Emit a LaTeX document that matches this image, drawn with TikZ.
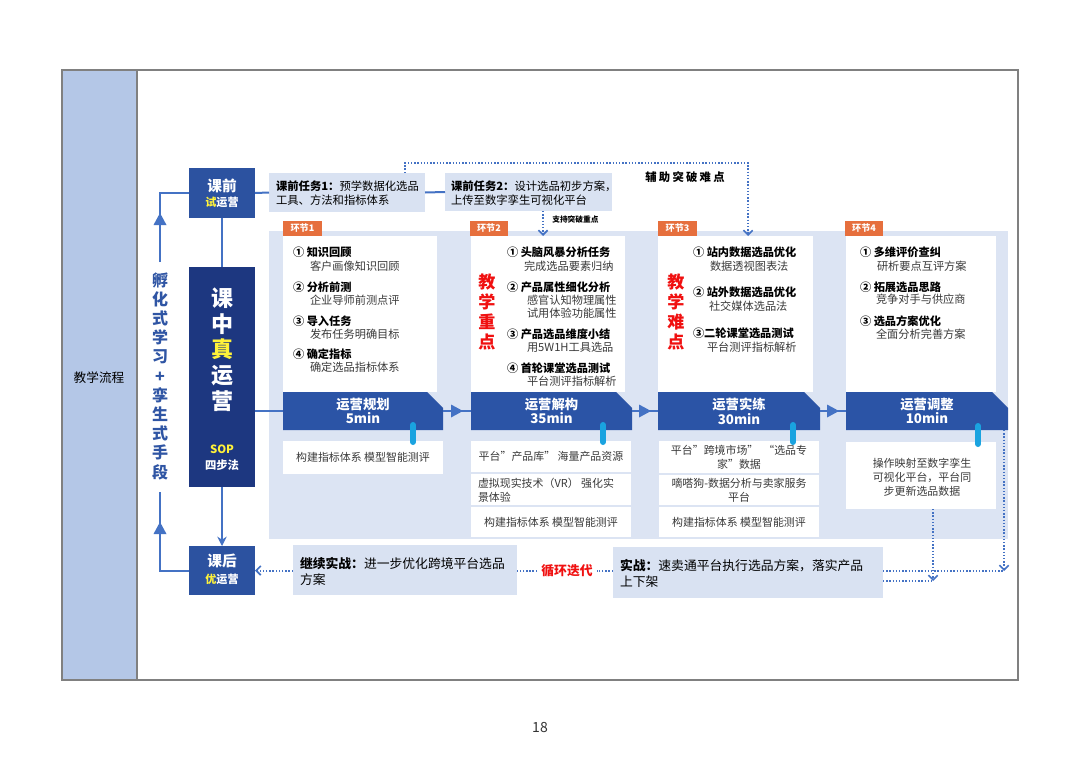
\documentclass[tikz,border=0pt]{standalone}
\usepackage{fontspec}
\setmainfont{Noto Sans CJK SC}
\usetikzlibrary{arrows.meta,fit,calc}
\definecolor{dblue}{HTML}{2C52A0}
\definecolor{navy}{HTML}{1D3780}
\definecolor{bandc}{HTML}{2B54A6}
\definecolor{lightp}{HTML}{DCE4F3}
\definecolor{taskc}{HTML}{D9E2F2}
\definecolor{stripc}{HTML}{B4C7E7}
\definecolor{tagc}{HTML}{E66F3D}
\definecolor{linec}{HTML}{4472C4}
\definecolor{redc}{HTML}{F01010}
\definecolor{yel}{HTML}{FFF23A}
\definecolor{pillc}{HTML}{1AA3E0}
\definecolor{subc}{HTML}{3A3A3A}
\definecolor{vtc}{HTML}{2F55A4}
\definecolor{framec}{HTML}{808080}
\newcommand\PX{0.75pt}
\newcommand\bandshape[5]{%
  \fill[bandc] (#2,392) -- (#3-16,392) -- (#3,408) -- (#3,430) -- (#2,430) -- cycle;
  \node[rbox, fit={(#2,392) (#3,430)}] (#1) {};
  \node[bandtxt] (#1t) at (#1.center) {#4\\#5};}
\begin{document}
\begin{tikzpicture}[x=0.75pt,y=-0.75pt,
  rbox/.style={rectangle, inner sep=0pt, outer sep=0pt, draw=none},
  txt/.style={inner sep=0pt, outer sep=0pt, font=\fontsize{8.4}{10.2}\selectfont, align=left},
  ttl/.style={txt, font=\fontsize{8.4}{10.2}\selectfont\bfseries, anchor=west},
  sub/.style={txt, text=subc, anchor=west},
  lowtxt/.style={inner sep=0pt, outer sep=0pt, font=\fontsize{8.2}{10.5}\selectfont, align=center, text=subc},
  bandtxt/.style={inner sep=0pt, font=\fontsize{10}{11}\selectfont\bfseries, text=white, align=center},
  tagtxt/.style={inner sep=0pt, font=\fontsize{6.8}{8}\selectfont\bfseries, text=white},
  link/.style={draw=linec, line width=1.5pt},
  dotl/.style={draw=linec, line width=1.5pt, dash pattern=on 1.1pt off 1.3pt},
  dota/.style={dotl, -{Straight Barb[length=3.5pt,width=7pt,line width=1.2pt]}},
  redv/.style={inner sep=0pt, font=\fontsize{12.8}{15}\selectfont\bfseries, text=redc, align=center},
  pill/.style={draw=pillc, line width=4.5pt, line cap=round},
]
\useasboundingbox[fill=white] (0,0) rectangle (1080,763);

% frame and left strip
\fill[stripc] (62,70) rectangle (137,680);
\draw[framec, line width=0.8pt] (62,70) rectangle (1018,680);
\draw[framec, line width=0.8pt] (137,70) -- (137,680);
\node[inner sep=0pt, font=\fontsize{9.5}{11}\selectfont] (flow) at (99,378) {教学流程};
\node[inner sep=0pt, font=\fontsize{10.5}{12}\selectfont, text=black!80] (pg) at (540,727) {18};

% big panel
\node[rbox, fill=lightp, fit={(269,231) (1008,539)}] (panel) {};

% pre-class boxes
\node[rbox, fill=dblue, fit={(189,168) (255,218)}] (kq) {};
\node[inner sep=0pt, font=\fontsize{11}{12}\selectfont\bfseries, text=white] (kqa) at (222,186) {课前};
\node[inner sep=0pt, font=\fontsize{8.3}{10}\selectfont\bfseries, text=white] (kqb) at (222,202) {{\color{yel}试}运营};

\node[rbox, fill=taskc, fit={(269,173) (425,212)}] (t1) {};
\node[txt, anchor=west, font=\fontsize{8.5}{10.5}\selectfont] (t1t) at (276,193) {\textbf{课前任务1：}预学数据化选品\\工具、方法和指标体系};
\node[rbox, fill=taskc, fit={(445,173) (612,211)}] (t2) {};
\node[txt, anchor=west, font=\fontsize{8.5}{10.5}\selectfont] (t2t) at (451,193) {\textbf{课前任务2：}设计选品初步方案，\\上传至数字孪生可视化平台};

\draw[link] (kq.east) -- (t1.west);
\draw[link] (t1.east) -- (t2.west);

% in-class box
\node[rbox, fill=navy, fit={(189,267) (255,487)}] (kz) {};
\node[inner sep=0pt, font=\fontsize{16.5}{19.3}\selectfont\bfseries, text=white, align=center] (kzt) at (222,349.5) {课\\中\\{\color{yel}真}\\运\\营};
\node[inner sep=0pt, font=\fontsize{8.5}{10}\selectfont\bfseries, text=yel] (sop) at (222,449) {SOP};
\node[inner sep=0pt, font=\fontsize{8.5}{10}\selectfont\bfseries, text=white] (sbf) at (222,465) {四步法};

% post-class box
\node[rbox, fill=dblue, fit={(189,546) (255,595)}] (kh) {};
\node[inner sep=0pt, font=\fontsize{11}{12}\selectfont\bfseries, text=white] (kha) at (222,561) {课后};
\node[inner sep=0pt, font=\fontsize{8.3}{10}\selectfont\bfseries, text=white] (khb) at (222,579) {{\color{yel}优}运营};

\draw[link] (kq.south) -- (kz.north);
\draw[link, -{Stealth[length=7pt,width=7pt]}] (kz.south) -- (kh.north);

% left loop with vertical text
\node[inner sep=0pt, font=\fontsize{12}{14.4}\selectfont\bfseries, text=vtc, align=center] (vt) at (160,376) {孵\\化\\式\\学\\习\\+\\孪\\生\\式\\手\\段};
\coordinate (lt) at (160,262);
\coordinate (lb) at (160,492);
\draw[link] (kh.west) -| (lb);
\draw[link] (lt) |- (kq.west);
\fill[linec] (160,213) -- (153.5,225) -- (166.5,225) -- cycle;
\fill[linec] (160,522) -- (153.5,534) -- (166.5,534) -- cycle;

% white content boxes
\node[rbox, fill=white, fit={(283,236) (437,392)}] (w1) {};
\node[rbox, fill=white, fit={(471,236) (625,392)}] (w2) {};
\node[rbox, fill=white, fit={(658,236) (813,392)}] (w3) {};
\node[rbox, fill=white, fit={(846,236) (996,392)}] (w4) {};

% tags
\node[rbox, fill=tagc, fit={(283,221) (322,236)}] (g1) {};
\node[tagtxt] (g1t) at (g1.center) {环节1};
\node[rbox, fill=tagc, fit={(470,221) (508,236)}] (g2) {};
\node[tagtxt] (g2t) at (g2.center) {环节2};
\node[rbox, fill=tagc, fit={(658,221) (697,236)}] (g3) {};
\node[tagtxt] (g3t) at (g3.center) {环节3};
\node[rbox, fill=tagc, fit={(845,221) (883,236)}] (g4) {};
\node[tagtxt] (g4t) at (g4.center) {环节4};

% bands
\bandshape{b1}{283}{443}{运营规划}{5min}
\bandshape{b2}{471}{632}{运营解构}{35min}
\bandshape{b3}{658}{820}{运营实练}{30min}
\bandshape{b4}{846}{1008}{运营调整}{10min}

\draw[link] (kz.east |- b1.west) -- (b1.west);
\draw[link] (b1.east) -- (b2.west);
\draw[link] (b2.east) -- (b3.west);
\draw[link] (b3.east) -- (b4.west);
\fill[linec] ($(b1.east)!0.5!(b2.west)+(6,0)$) -- ++(-12,-6.5) -- ++(0,13) -- cycle;
\fill[linec] ($(b2.east)!0.5!(b3.west)+(6,0)$) -- ++(-12,-6.5) -- ++(0,13) -- cycle;
\fill[linec] ($(b3.east)!0.5!(b4.west)+(6,0)$) -- ++(-12,-6.5) -- ++(0,13) -- cycle;

% lower boxes
\node[rbox, fill=white, fit={(283,441) (443,474)}] (l1) {};
\node[lowtxt] (l1t) at (l1.center) {构建指标体系 模型智能测评};

\node[rbox, fill=white, fit={(471,441) (631,472)}] (l2a) {};
\node[lowtxt] (l2at) at (l2a.center) {平台”产品库” 海量产品资源};
\node[rbox, fill=white, fit={(471,474) (631,505)}] (l2b) {};
\node[lowtxt, align=left, anchor=west] (l2bt) at (478,490) {虚拟现实技术（VR） 强化实\\景体验};
\node[rbox, fill=white, fit={(471,507) (631,537)}] (l2c) {};
\node[lowtxt] (l2ct) at (l2c.center) {构建指标体系 模型智能测评};

\node[rbox, fill=white, fit={(659,441) (819,473)}] (l3a) {};
\node[lowtxt] (l3at) at (l3a.center) {平台”跨境市场”\ \ “选品专\\家”数据};
\node[rbox, fill=white, fit={(659,475) (819,505)}] (l3b) {};
\node[lowtxt] (l3bt) at (l3b.center) {嘀嗒狗-数据分析与卖家服务\\平台};
\node[rbox, fill=white, fit={(659,507) (819,537)}] (l3c) {};
\node[lowtxt] (l3ct) at (l3c.center) {构建指标体系 模型智能测评};

\node[rbox, fill=white, fit={(846,442) (996,509)}] (l4) {};
\node[lowtxt] (l4t) at (922,477) {操作映射至数字孪生\\可视化平台，平台同\\步更新选品数据};

% pills
\draw[pill] (413,425) -- (413,442);
\draw[pill] (603,425) -- (603,442);
\draw[pill] (793,425) -- (793,442);
\draw[pill] (978,426) -- (978,444);

% step 1 text
\node[ttl] (a11) at (293,252) {① 知识回顾};
\node[sub] (s11) at (310,266) {客户画像知识回顾};
\node[ttl] (a12) at (293,287) {② 分析前测};
\node[sub] (s12) at (310,300) {企业导师前测点评};
\node[ttl] (a13) at (293,321) {③ 导入任务};
\node[sub] (s13) at (310,334) {发布任务明确目标};
\node[ttl] (a14) at (293,354) {④ 确定指标};
\node[sub] (s14) at (310,367) {确定选品指标体系};

% step 2 text
\node[redv] (r2) at (487,312) {教\\学\\重\\点};
\node[ttl] (a21) at (507,252) {① 头脑风暴分析任务};
\node[sub] (s21) at (524,266) {完成选品要素归纳};
\node[ttl] (a22) at (507,287) {② 产品属性细化分析};
\node[sub] (s22a) at (527,300) {感官认知物理属性};
\node[sub] (s22b) at (527,313) {试用体验功能属性};
\node[ttl] (a23) at (507,334) {③ 产品选品维度小结};
\node[sub] (s23) at (527,347) {用5W1H工具选品};
\node[ttl] (a24) at (507,368) {④ 首轮课堂选品测试};
\node[sub] (s24) at (527,381) {平台测评指标解析};

% step 3 text
\node[redv] (r3) at (676,311.5) {教\\学\\难\\点};
\node[ttl] (a31) at (693,252) {① 站内数据选品优化};
\node[sub] (s31) at (710,266) {数据透视图表法};
\node[ttl] (a32) at (693,292) {② 站外数据选品优化};
\node[sub] (s32) at (709,306) {社交媒体选品法};
\node[ttl] (a33) at (693,333) {③二轮课堂选品测试};
\node[sub] (s33) at (707,347) {平台测评指标解析};

% step 4 text
\node[ttl] (a41) at (860,252) {① 多维评价查纠};
\node[sub] (s41) at (877,266) {研析要点互评方案};
\node[ttl] (a42) at (860,287) {② 拓展选品思路};
\node[sub] (s42) at (876,299) {竞争对手与供应商};
\node[ttl] (a43) at (860,321) {③ 选品方案优化};
\node[sub] (s43) at (876,334) {全面分析完善方案};

% dotted supports
\coordinate (hd) at (748,236);
\coordinate (ht) at (405,163);
\draw[dota] (t1.north -| ht) -- (ht) -| (hd);
\node[inner sep=0pt, font=\fontsize{8.5}{10}\selectfont\bfseries\addfontfeatures{LetterSpace=20}] (fz) at (685,177) {辅助突破难点};
\coordinate (zd) at (543,236);
\draw[dota] (t2.south -| zd) -- (zd);
\node[inner sep=0pt, anchor=west, font=\fontsize{5.8}{7}\selectfont\bfseries] (zc) at (552,220) {支持突破重点};

% bottom row
\node[rbox, fill=taskc, fit={(293,545) (517,595)}] (j1) {};
\node[txt, anchor=west, font=\fontsize{9.6}{12}\selectfont] (j1t) at (300,571) {\textbf{继续实战：}进一步优化跨境平台选品\\方案};
\node[rbox, fill=taskc, fit={(613,547) (883,598)}] (j2) {};
\node[txt, anchor=west, font=\fontsize{9.6}{12.5}\selectfont] (j2t) at (620,573.5) {\textbf{实战：}速卖通平台执行选品方案，落实产品\\上下架};
\node[inner sep=0pt, font=\fontsize{9.6}{11}\selectfont\bfseries, text=redc] (xh) at (567,571) {循环迭代};

\draw[dota] (j1.west |- kh.east) -- (kh.east);
\draw[dotl] (j2.west |- xh.east) -- ([xshift=4*\PX]xh.east);
\draw[dotl] ([xshift=-4*\PX]xh.west) -- (j1.east |- xh.west);

\coordinate (r1) at (1004,571);
\coordinate (r2c) at (933,581);
\draw[dota] (b4.south east -| r1) -- (r1);
\draw[dotl] (j2.east |- r1) -- (r1);
\draw[dota] (l4.south -| r2c) -- (r2c);
\draw[dotl] (j2.east |- r2c) -- (r2c);
\end{tikzpicture}
\end{document}
